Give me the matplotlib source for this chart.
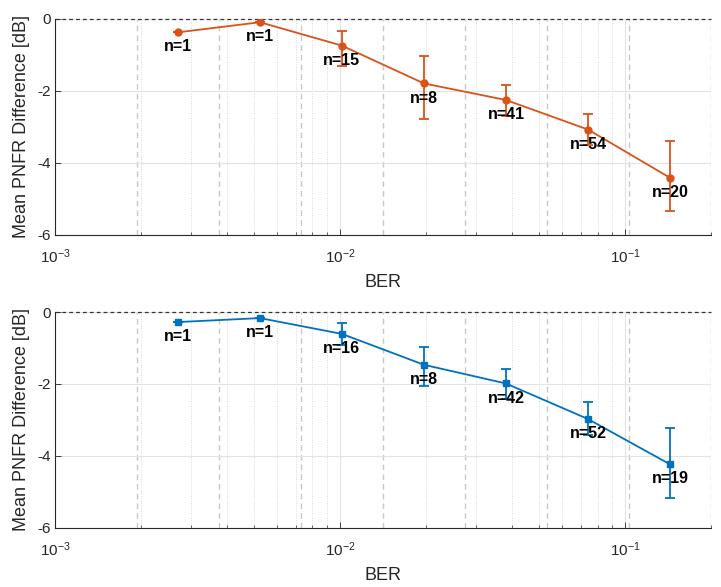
import matplotlib
matplotlib.use("Agg")
import matplotlib.pyplot as plt
import numpy as np
from matplotlib.ticker import LogLocator, NullFormatter, FixedLocator

plt.rcParams['font.family'] = ['Liberation Sans', 'DejaVu Sans']
plt.rcParams['mathtext.fontset'] = 'custom'
plt.rcParams['mathtext.rm'] = 'Liberation Sans'
plt.rcParams['mathtext.it'] = 'Liberation Sans:italic'
plt.rcParams['mathtext.bf'] = 'Liberation Sans:bold'
plt.rcParams['mathtext.default'] = 'regular'
plt.rcParams['axes.unicode_minus'] = False

# ---- data ----
bin_edges = [0.001, 0.001939, 0.003761, 0.007293, 0.01414, 0.02742, 0.05318, 0.1031, 0.2]
ber = [0.002700, 0.005236, 0.01015, 0.01969, 0.03818, 0.07404, 0.1436]

# top panel (orange)
mean_top = [-0.37, -0.09, -0.74, -1.79, -2.25, -3.07, -4.41]
lo_top = [-0.37, -0.09, -1.30, -2.77, -2.69, -3.50, -5.34]
hi_top = [-0.37, -0.09, -0.325, -1.04, -1.83, -2.63, -3.40]
n_top = [1, 1, 15, 8, 41, 54, 20]

# bottom panel (blue)
mean_bot = [-0.28, -0.17, -0.61, -1.47, -1.99, -2.98, -4.24]
lo_bot = [-0.28, -0.17, -0.92, -2.06, -2.41, -3.42, -5.19]
hi_bot = [-0.28, -0.17, -0.30, -0.98, -1.58, -2.51, -3.22]
n_bot = [1, 1, 16, 8, 42, 52, 19]

yticks = [-6, -4, -2, 0]
xlim = (1e-3, 0.2)
ylim = (-6, 0)

ORANGE = '#D95319'
BLUE = '#0072BD'
AXC = '#262626'

W, H = 721, 587
fig = plt.figure(figsize=(W / 100, H / 100), dpi=100)

def px_axes(left, top, right, bottom):
    return fig.add_axes([left / W, 1 - bottom / H, (right - left) / W, (bottom - top) / H])

ax1 = px_axes(55, 19, 711, 235)
ax2 = px_axes(55, 312, 711, 527.5)

def draw(ax, mean, lo, hi, ns, color, marker, msize):
    ax.set_xscale('log')
    ax.set_xlim(*xlim)
    ax.set_ylim(*ylim)
    # grids
    ax.set_yticks(yticks)
    ax.xaxis.set_major_locator(LogLocator(base=10))
    ax.xaxis.set_minor_locator(LogLocator(base=10, subs=np.arange(2, 10)))
    ax.xaxis.set_minor_formatter(NullFormatter())
    ax.grid(True, which='major', color='#e3e3e3', lw=0.8, ls='-', zorder=0)
    ax.grid(True, which='minor', axis='x', color='#d8d8d8', lw=0.7, ls=(0, (1, 1.5)), zorder=0)
    # bin edges
    for e in bin_edges[1:]:
        ax.axvline(e, color='#c8c8c8', lw=1.0, ls=(0, (4, 3)), zorder=1)
    ax.axhline(0, color='#333333', lw=0.9, ls=(0, (3, 2.5)), zorder=2, clip_on=False)
    m = np.array(mean)
    yerr = np.vstack([m - np.array(lo), np.array(hi) - m])
    ax.errorbar(ber, mean, yerr=yerr, color=color, marker=marker, ms=msize,
                mfc=color, mec=color, lw=1.3, elinewidth=1.3, capsize=3.5,
                capthick=1.3, zorder=3)
    for x, y, n in zip(ber, mean, ns):
        ax.annotate(f'n={n}', (x, y), xytext=(0, -10.5), textcoords='offset points',
                    ha='center', va='center', fontsize=11.5, fontweight='bold',
                    color='black', zorder=4)
    for s in ['top', 'right']:
        ax.spines[s].set_visible(False)
    for s in ['left', 'bottom']:
        ax.spines[s].set_color(AXC)
        ax.spines[s].set_linewidth(0.8)
    ax.tick_params(axis='both', which='both', direction='in', colors=AXC,
                   labelsize=11)
    ax.tick_params(axis='both', which='major', length=4, width=0.6)
    ax.tick_params(axis='x', which='minor', length=2.5, width=0.5)
    ax.tick_params(axis='x', which='major', pad=9)
    ax.tick_params(axis='y', which='major', pad=3)
    ax.set_xlabel('BER', fontsize=13, color=AXC, labelpad=6)
    ax.set_ylabel('Mean PNFR Difference [dB]', fontsize=13, color=AXC, labelpad=5)

draw(ax1, mean_top, lo_top, hi_top, n_top, ORANGE, 'o', 5)
draw(ax2, mean_bot, lo_bot, hi_bot, n_bot, BLUE, 's', 4.5)

fig.savefig('out.png', dpi=100)
